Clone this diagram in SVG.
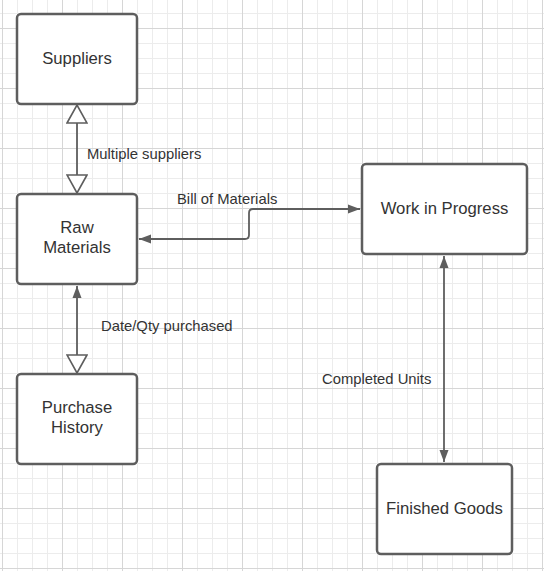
<svg xmlns="http://www.w3.org/2000/svg" width="544" height="571" viewBox="0 0 544 571">
  <defs>
    <pattern id="minor" x="2" y="13" width="15" height="15" patternUnits="userSpaceOnUse">
      <path d="M0.5 0 V15 M0 0.5 H15" fill="none" stroke="#ececec" stroke-width="1"/>
    </pattern>
    <pattern id="major" x="2" y="28" width="60" height="60" patternUnits="userSpaceOnUse">
      <path d="M0.5 0 V60 M0 0.5 H60" fill="none" stroke="#d6d6d6" stroke-width="1"/>
    </pattern>
    <marker id="filled" viewBox="0 0 12 10" refX="12" refY="5" markerWidth="12" markerHeight="10" markerUnits="userSpaceOnUse" orient="auto-start-reverse">
      <path d="M0 0.5 L12 5 L0 9.5 Z" fill="#5e5e5e"/>
    </marker>
    <marker id="hollow" viewBox="0 0 20 22" refX="19" refY="11" markerWidth="20" markerHeight="22" markerUnits="userSpaceOnUse" orient="auto-start-reverse">
      <path d="M1 1 L19 11 L1 21 Z" fill="#ffffff" stroke="#5e5e5e" stroke-width="1.6" stroke-linejoin="miter"/>
    </marker>
  </defs>
  <style>
    .box { fill: #ffffff; stroke: #5e5e5e; stroke-width: 2.5; }
    .label { font-family: "Liberation Sans", Arial, sans-serif; font-size: 16.7px; fill: #333333; text-anchor: middle; dominant-baseline: central; }
    .elabel { font-family: "Liberation Sans", Arial, sans-serif; font-size: 14.8px; fill: #333333; dominant-baseline: central; }
    .edge { fill: none; stroke: #5e5e5e; stroke-width: 1.8; }
  </style>
  <rect width="544" height="571" fill="#ffffff"/>
  <rect width="544" height="571" fill="url(#minor)"/>
  <rect width="544" height="571" fill="url(#major)"/>

  <g id="connectors">
    <line class="edge" x1="77" y1="105" x2="77" y2="193" marker-start="url(#hollow)" marker-end="url(#hollow)"/>
    <text class="elabel" x="87" y="154">Multiple suppliers</text>

    <path class="edge" d="M139 239 H245 Q249 239 249 235 V213 Q249 209 253 209 H360" marker-start="url(#filled)" marker-end="url(#filled)"/>
    <text class="elabel" x="177" y="199">Bill of Materials</text>

    <line class="edge" x1="77" y1="286" x2="77" y2="373" marker-start="url(#filled)" marker-end="url(#hollow)"/>
    <text class="elabel" x="101" y="326">Date/Qty purchased</text>

    <line class="edge" x1="444" y1="256" x2="444" y2="462" marker-start="url(#filled)" marker-end="url(#filled)"/>
    <text class="elabel" x="322" y="379">Completed Units</text>
  </g>

  <g id="suppliers">
    <rect class="box" x="17" y="14" width="120" height="90" rx="4"/>
    <text class="label" x="77" y="58">Suppliers</text>
  </g>
  <g id="raw-materials">
    <rect class="box" x="17" y="194" width="120" height="90" rx="4"/>
    <text class="label" x="77" y="227">Raw</text>
    <text class="label" x="77" y="247">Materials</text>
  </g>
  <g id="purchase-history">
    <rect class="box" x="17" y="374" width="120" height="90" rx="4"/>
    <text class="label" x="77" y="407">Purchase</text>
    <text class="label" x="77" y="427">History</text>
  </g>
  <g id="work-in-progress">
    <rect class="box" x="362" y="164" width="165" height="90" rx="4"/>
    <text class="label" x="444.5" y="208">Work in Progress</text>
  </g>
  <g id="finished-goods">
    <rect class="box" x="377" y="464" width="135" height="90" rx="4"/>
    <text class="label" x="444.5" y="508">Finished Goods</text>
  </g>
</svg>
